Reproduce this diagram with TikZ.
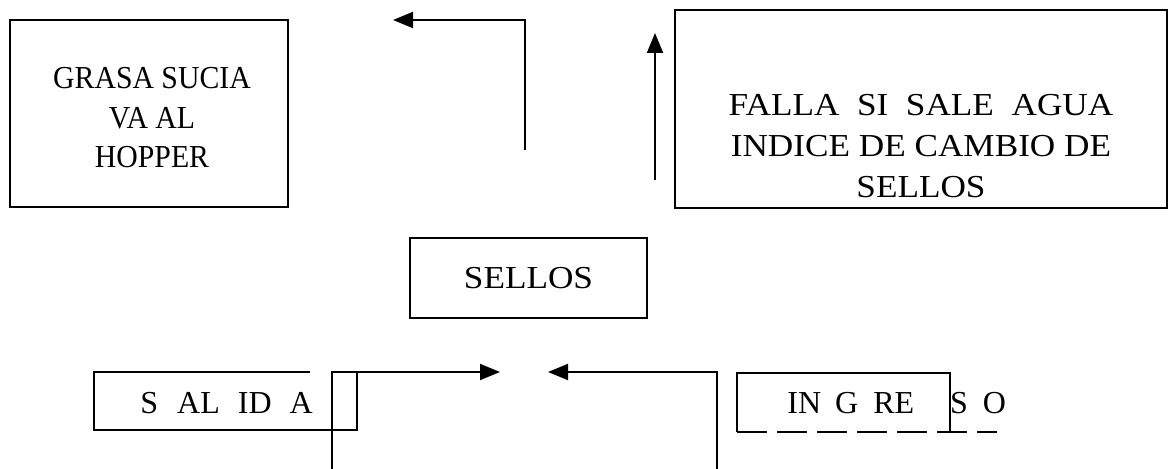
\documentclass[tikz,border=0pt]{standalone}
\usepackage{fontspec}
\setmainfont{Liberation Serif}
\newfontfamily\estrecho[FakeStretch=0.93]{Liberation Serif}
\newfontfamily\ancho[FakeStretch=1.1]{Liberation Serif}
\usetikzlibrary{arrows.meta}
\tikzset{
  caja/.style={draw, line width=1pt, inner sep=0pt},
  texto/.style={inner sep=0pt, align=center},
  rotulo/.style={inner sep=0pt, anchor=base west},
  flecha/.style={line width=1pt, -{Triangle[length=10pt,width=8pt]}}
}

\begin{document}
\begin{tikzpicture}[x=0.5pt, y=-0.5pt, font=\fontsize{16}{20}\selectfont]
    \useasboundingbox (0,0) rectangle (1170,469);
    \node[caja, minimum width=139pt, minimum height=93.5pt] (grasa) at (149,113.5) {};
    \node[texto, font=\fontsize{16}{19.75}\estrecho] (grasatxt) at (152,118) {GRASA SUCIA\\VA AL\\HOPPER};
    \node[caja, minimum width=246pt, minimum height=99pt] (falla) at (921,109) {};
    \node[texto, font=\fontsize{16}{20.5}\ancho] (fallatxt) at (921,146) {FALLA\ \ SI\ \ SALE\ \ AGUA\\INDICE DE CAMBIO DE\\SELLOS};
    \node[caja, minimum width=118.5pt, minimum height=40pt, font=\fontsize{16}{20}\ancho] (sellos) at (528.5,278) {SELLOS};
    \node[rotulo] (salida) at (140,413) {S\hspace{9.5pt}AL\hspace{9pt}ID\hspace{9pt}A};
    \node[rotulo] (ingreso) at (787,413) {IN\hspace{7pt}G\hspace{7.5pt}RE\hspace{18pt}S\hspace{7.5pt}O};
    \draw[line width=1pt] (310,372) -- (94,372) -- (94,430) -- (357,430) -- (357,372);
    \draw[line width=1pt] (950,432) -- (950,373) -- (737,373) -- (737,432);
    \draw[line width=1pt, dash pattern=on 15pt off 5pt] (737,432) -- (997,432);
    \coordinate (sal1) at (525,150);
    \coordinate (fin1) at (393,20);
    \coordinate (sal2) at (655,180);
    \coordinate (fin2) at (655,33);
    \coordinate (sal3) at (332,469);
    \coordinate (fin3) at (500,372);
    \coordinate (sal4) at (717,469);
    \coordinate (fin4) at (548,372);
    \draw[flecha] (sal1) |- (fin1);
    \draw[flecha] (sal2) -- (fin2);
    \draw[flecha] (sal3) |- (fin3);
    \draw[flecha] (sal4) |- (fin4);
\end{tikzpicture}
\end{document}
